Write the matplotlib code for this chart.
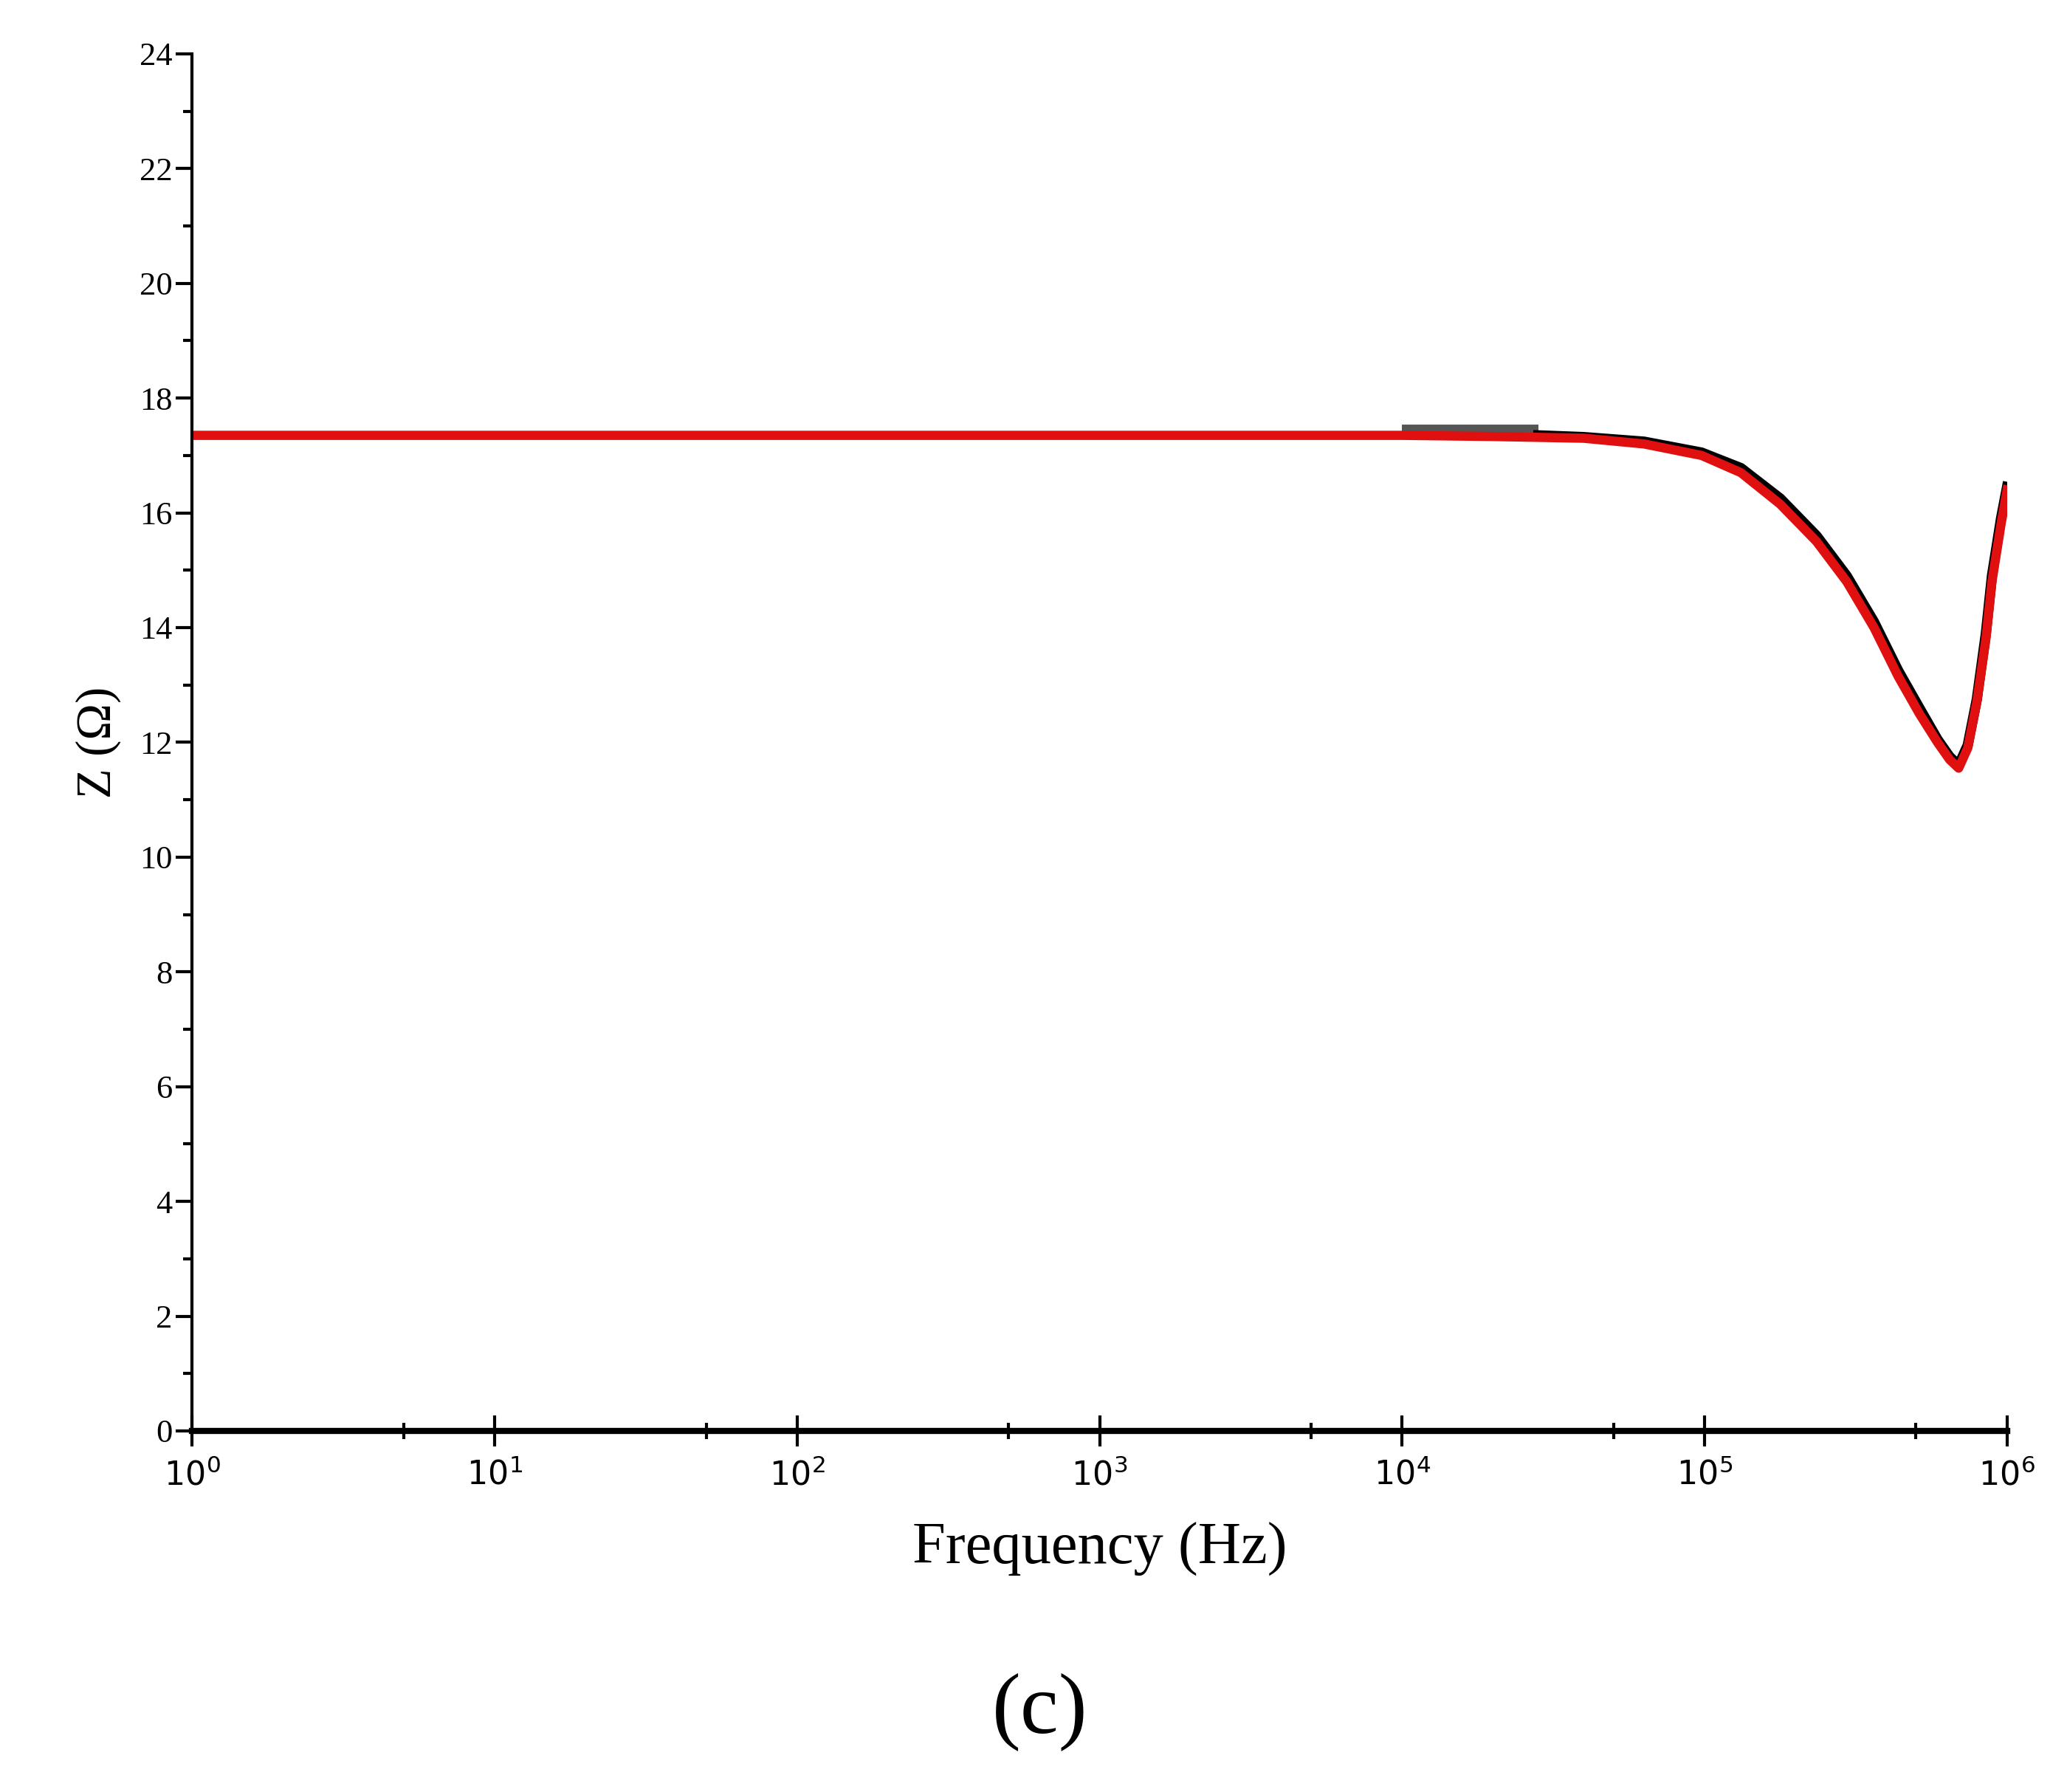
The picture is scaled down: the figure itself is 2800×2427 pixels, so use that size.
import matplotlib
matplotlib.use("Agg")
import matplotlib.pyplot as plt
import numpy as np
from matplotlib.ticker import FixedLocator, FuncFormatter

# data (log10 frequency, impedance)
logf_red = [0.0, 1.0, 2.0, 3.0, 4.0, 4.3, 4.6, 4.8, 4.99, 5.12, 5.25, 5.37, 5.47, 5.56, 5.64, 5.71, 5.77, 5.81, 5.84, 5.87, 5.90, 5.93, 5.95, 5.98, 6.0]
z_red    = [17.35, 17.35, 17.35, 17.35, 17.35, 17.33, 17.3, 17.2, 17.0, 16.7, 16.15, 15.5, 14.8, 14.0, 13.15, 12.5, 12.0, 11.7, 11.55, 11.9, 12.7, 13.8, 14.8, 15.8, 16.4]
logf_blk = [4.0, 4.3, 4.45]
z_blk    = [17.45, 17.45, 17.45]
logf_blk2 = [4.45, 4.6, 4.8, 4.99, 5.12, 5.25, 5.37, 5.47, 5.56, 5.64, 5.71, 5.77, 5.81, 5.84, 5.87, 5.90, 5.93, 5.95, 5.98, 6.0]
z_blk2    = [17.35, 17.32, 17.24, 17.05, 16.78, 16.25, 15.6, 14.9, 14.1, 13.25, 12.6, 12.05, 11.75, 11.6, 11.95, 12.75, 13.9, 14.9, 15.9, 16.45]

plt.rcParams['font.family'] = ['Liberation Serif', 'DejaVu Serif']
fig = plt.figure(figsize=(28, 24.27), dpi=100)
ax = fig.add_axes([0.093, 0.2015, 0.878, 0.7685])

ax.plot(10**np.array(logf_blk), z_blk, color='#555555', lw=10, solid_capstyle='butt')
ax.plot(10**np.array(logf_blk2), z_blk2, color='black', lw=10)
ax.plot(10**np.array(logf_red), z_red, color='#e01010', lw=9)

ax.set_xscale('log')
ax.set_xlim(1, 1e6)
ax.set_ylim(0, 24)
ax.xaxis.set_major_locator(FixedLocator([10**i for i in range(7)]))
ax.xaxis.set_minor_locator(FixedLocator([5 * 10**i for i in range(6)]))
ax.xaxis.set_major_formatter(FuncFormatter(lambda v, p: r'$10^{%d}$' % round(np.log10(v))))
ax.set_yticks(range(0, 25, 2))
ax.set_yticks(range(0, 25), minor=True)

for s in ['top', 'right']:
    ax.spines[s].set_visible(False)
ax.spines['bottom'].set_linewidth(6)
ax.spines['left'].set_linewidth(3)
ax.tick_params(axis='x', which='major', direction='inout', length=30, width=3, labelsize=32, pad=12)
ax.tick_params(axis='x', which='minor', direction='inout', length=16, width=3)
ax.tick_params(axis='y', which='major', direction='out', length=16, width=3, labelsize=32)
ax.tick_params(axis='y', which='minor', direction='out', length=9, width=3)

ax.set_xlabel('Frequency (Hz)', fontsize=58, labelpad=30)
ax.set_ylabel('Z (Ω)', fontsize=48, labelpad=18)
fig.text(0.503, 0.045, '(c)', fontsize=84, ha='center', va='center')

fig.savefig('out.png', dpi=100)
